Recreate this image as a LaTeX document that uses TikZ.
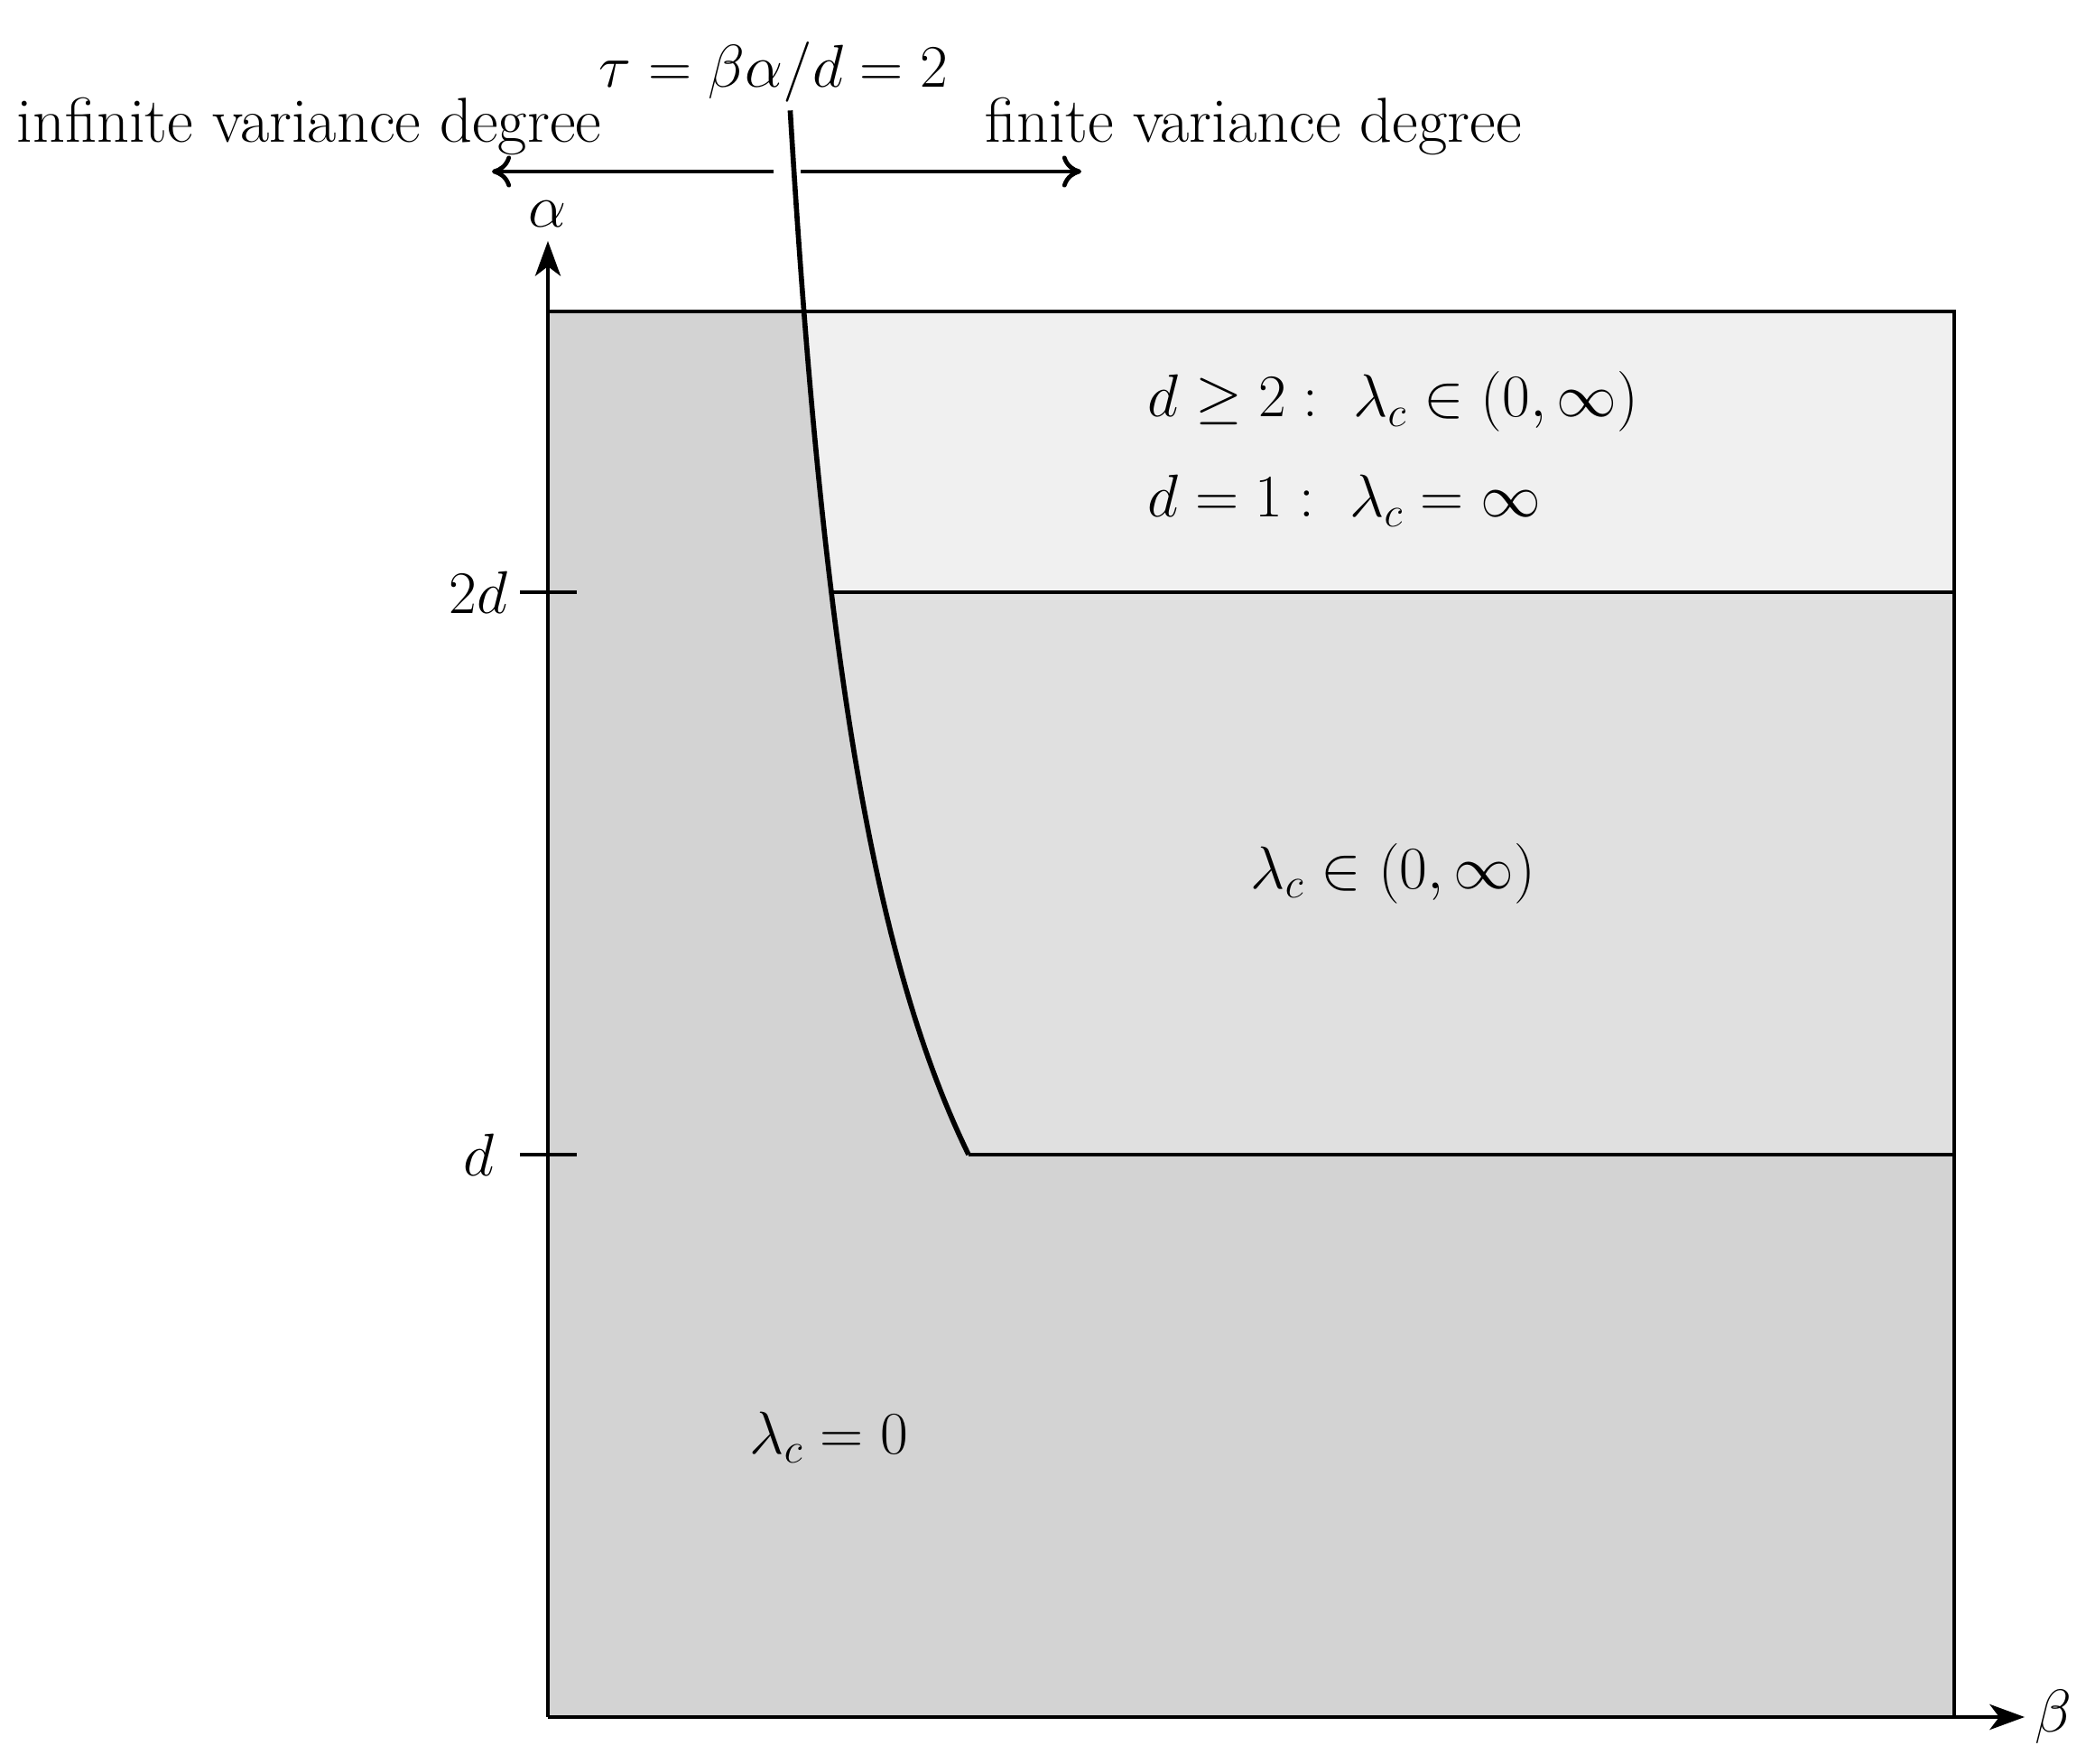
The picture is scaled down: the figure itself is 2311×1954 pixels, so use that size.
\RequirePackage{fix-cm}
\documentclass[tikz,border=0pt]{standalone}
\usetikzlibrary{arrows.meta}
\definecolor{regA}{HTML}{D3D3D3}
\definecolor{regB}{HTML}{E0E0E0}
\definecolor{regC}{HTML}{F0F0F0}
\begin{document}
\begin{tikzpicture}[x=0.01cm,y=0.01cm,
  edge/.style={line width=1.35pt},
  curveline/.style={line width=1.6pt},
  axis/.style={line width=1.2pt,-{Stealth[length=11pt,width=8pt,inset=3pt]}},
  dirarrow/.style={line width=1.35pt,-{To[length=6pt,width=10pt]}},
  lbl/.style={inner sep=0pt,font=\fontsize{20}{24}\selectfont},
  mlbl/.style={inner sep=0pt,font=\fontsize{19}{23}\selectfont}]
\useasboundingbox (0,0) rectangle (2311,1954);
% key points
\coordinate (O) at (607,52);
\coordinate (BR) at (2165,52);
\coordinate (TL) at (607,1609);
\coordinate (TR) at (2165,1609);
\coordinate (R2) at (2165,1298);
\coordinate (R1) at (2165,675);
\coordinate (C2) at ({769+304/2},1298);
\coordinate (C1) at (1073,675);
\coordinate (Ya) at (607,1687);
\coordinate (Xb) at (2243,52);
% fills
\fill[regA] (O) rectangle (TR);
\fill[regB] plot[domain=1:2.4992,samples=80,variable=\a] ({769+304/\a},{52+623*\a}) -- (TR) -- (R1) -- cycle;
\fill[regC] plot[domain=2:2.4992,samples=40,variable=\a] ({769+304/\a},{52+623*\a}) -- (TR) -- (R2) -- cycle;
% lines
\draw[edge] (TL) -- (TR) -- (BR);
\draw[edge] (C2) -- (R2);
\draw[edge] (C1) -- (R1);
\draw[axis] (O) -- (Ya);
\draw[axis] (O) -- (Xb);
\draw[curveline] plot[domain=1:2.857,samples=100,variable=\a] ({769+304/\a},{52+623*\a});
% ticks
\coordinate (t2a) at (576,1298); \coordinate (t2b) at (639,1298);
\coordinate (t1a) at (576,675); \coordinate (t1b) at (639,675);
\draw[edge] (t2a) -- (t2b);
\draw[edge] (t1a) -- (t1b);
% direction arrows
\coordinate (la) at (857,1764); \coordinate (lb) at (545,1764);
\coordinate (ra) at (887,1764); \coordinate (rb) at (1198,1764);
\draw[dirarrow] (la) -- (lb);
\draw[dirarrow] (ra) -- (rb);
% labels
\node[mlbl] (alab) at (607,1717) {$\alpha$};
\node[mlbl,anchor=west] (blab) at (2254,52) {$\beta$};
\node[mlbl] (l2d) at (530,1298) {$2d$};
\node[mlbl] (l1d) at (530,675) {$d$};
\node[lbl,anchor=base west] (inf) at (18,1796) {infinite variance degree};
\node[lbl,anchor=base west] (fin) at (1091,1796) {finite variance degree};
\node[mlbl,anchor=base west] (tau) at (663,1857) {$\tau=\beta\alpha/d=2$};
\node[mlbl,anchor=base west] (top1) at (1271,1492) {$d\geq 2:\ \lambda_c\in(0,\infty)$};
\node[mlbl,anchor=base west] (top2) at (1271,1381) {$d=1:\ \lambda_c=\infty$};
\node[mlbl,anchor=west] (mid) at (1385,986) {$\lambda_c\in(0,\infty)$};
\node[mlbl,anchor=west] (bot) at (830,362) {$\lambda_c=0$};
\end{tikzpicture}
\end{document}
